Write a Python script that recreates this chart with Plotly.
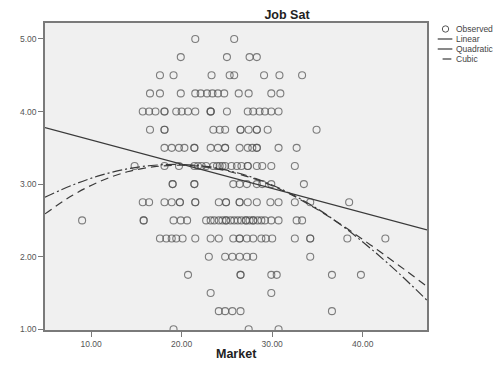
import plotly.graph_objects as go

# ---------------- data ----------------
# Observed points: Market (x) and Job Sat (y)
market = [
    # 5.00
    21.5, 25.8,
    # 4.75
    19.9, 25.0, 27.5, 28.3,
    # 4.50
    17.6, 19.1, 23.3, 25.3, 25.8, 29.1, 30.8, 33.3,
    # 4.25
    16.5, 17.6, 19.9, 21.5, 22.1, 22.8, 23.4, 24.0, 24.7, 26.3, 27.4, 29.9, 30.9,
    # 4.00
    15.7, 16.4, 17.1, 18.1, 18.1, 19.4, 20.0, 20.7, 21.5, 23.2, 23.2, 23.2, 25.0,
    27.3, 27.9, 28.6, 29.2, 29.9, 30.7,
    # 3.75
    16.5, 18.1, 18.1, 23.5, 24.2, 24.8, 26.5, 26.5, 27.4, 28.3, 28.3, 29.5, 34.9,
    # 3.50
    18.1, 18.9, 19.7, 20.3, 21.4, 21.4, 23.2, 24.0, 24.8, 24.8, 26.4, 27.3, 27.8,
    28.3, 28.3, 30.7, 32.7,
    # 3.25
    14.8, 18.1, 19.7, 21.4, 21.8, 22.2, 22.7, 23.5, 23.9, 24.2, 24.5, 24.8, 25.5,
    26.1, 26.6, 27.3, 27.3, 28.3, 28.9, 29.9, 32.5,
    # 3.00
    19.0, 19.0, 21.4, 21.4, 25.7, 26.4, 27.2, 28.3, 28.9, 29.9, 33.5,
    # 2.75
    15.7, 16.4, 18.1, 18.9, 19.8, 19.8, 21.5, 21.5, 24.1, 24.9, 24.9, 26.4, 26.4,
    27.3, 28.3, 29.8, 30.7, 32.5, 34.2, 38.5,
    # 2.50
    9.0, 15.8, 15.8, 19.1, 19.9, 20.6, 22.7, 23.2, 23.6, 24.1, 24.5, 24.9, 24.9,
    25.4, 25.8, 26.2, 26.6, 27.1, 27.1, 27.5, 27.9, 27.9, 28.4, 28.8, 29.2, 29.9,
    30.7, 32.7, 33.3,
    # 2.25
    17.6, 18.3, 18.9, 19.4, 20.1, 21.5, 23.2, 24.1, 25.7, 26.4, 26.4, 27.2, 27.9,
    28.8, 29.3, 30.0, 32.5, 34.2, 34.2, 38.3, 42.5,
    # 2.00
    23.0, 24.8, 25.6, 26.4, 27.2, 27.9, 34.2,
    # 1.75
    20.7, 26.5, 26.5, 29.9, 30.5, 36.6, 39.8,
    # 1.50
    23.2, 29.9,
    # 1.25
    24.1, 24.8, 25.6, 26.5, 36.6,
    # 1.00
    19.1, 27.4, 30.7,
]
job_sat = (
    [5.00] * 2 + [4.75] * 4 + [4.50] * 8 + [4.25] * 13 + [4.00] * 19 +
    [3.75] * 13 + [3.50] * 17 + [3.25] * 21 + [3.00] * 11 + [2.75] * 20 +
    [2.50] * 29 + [2.25] * 21 + [2.00] * 7 + [1.75] * 7 + [1.50] * 2 +
    [1.25] * 5 + [1.00] * 3
)

# Fitted lines
linear_x = [4.9, 47.1]
linear_y = [3.78, 2.37]

curve_x = [4.9, 8, 11, 14, 17, 20, 23, 26, 29, 32, 35, 38, 41, 44, 47.1]
quadratic_y = [2.59, 2.85, 3.04, 3.17, 3.24, 3.26, 3.23, 3.15, 3.03, 2.86, 2.65,
               2.41, 2.15, 1.88, 1.59]
cubic_y = [2.82, 2.99, 3.12, 3.21, 3.26, 3.27, 3.24, 3.16, 3.04, 2.87, 2.66,
           2.40, 2.10, 1.77, 1.40]

x_ticks = [10, 20, 30, 40]
y_ticks = [1, 2, 3, 4, 5]
legend_labels = ["Observed", "Linear", "Quadratic", "Cubic"]

# ---------------- figure ----------------
# The page body has an 8px margin, so the figure is sized to fit the window.
OFF = 8
FIG_W, FIG_H = 501 - OFF, 366 - OFF
LINE_COL = "#3a3a3a"
fig = go.Figure()

fig.add_trace(go.Scatter(
    x=market, y=job_sat, mode="markers", name="Observed",
    marker=dict(symbol="circle-open", size=7, color="rgba(85,85,85,0.75)",
                line=dict(width=1.1, color="rgba(85,85,85,0.75)")),
    showlegend=False,
))
fig.add_trace(go.Scatter(
    x=linear_x, y=linear_y, mode="lines", name="Linear",
    line=dict(color=LINE_COL, width=1.2), showlegend=False,
))
fig.add_trace(go.Scatter(
    x=curve_x, y=quadratic_y, mode="lines", name="Quadratic",
    line=dict(color=LINE_COL, width=1.2, dash="8px,5px", shape="spline"),
    showlegend=False,
))
fig.add_trace(go.Scatter(
    x=curve_x, y=cubic_y, mode="lines", name="Cubic",
    line=dict(color=LINE_COL, width=1.2, dash="10px,3px,2px,3px", shape="spline"),
    showlegend=False,
))

# Plot area in screen pixels
PW, PH, L, T = 392, 307, 35, 23
def px_x(px):
    return (px - L) / PW
def px_y(py):
    return (T + PH - py) / PH

# Manual compact legend
leg_y = [29, 39, 49, 59]
fig.add_shape(type="circle", xref="paper", yref="paper",
              xsizemode="pixel", ysizemode="pixel",
              xanchor=px_x(446), yanchor=px_y(leg_y[0]),
              x0=-3.2, x1=3.2, y0=-3.2, y1=3.2,
              line=dict(color="#555", width=1))
fig.add_shape(type="line", xref="paper", yref="paper",
              x0=px_x(438), x1=px_x(453), y0=px_y(leg_y[1]), y1=px_y(leg_y[1]),
              line=dict(color=LINE_COL, width=1.2))
fig.add_shape(type="line", xref="paper", yref="paper",
              x0=px_x(438), x1=px_x(453), y0=px_y(leg_y[2]), y1=px_y(leg_y[2]),
              line=dict(color=LINE_COL, width=1.2))
fig.add_shape(type="line", xref="paper", yref="paper",
              x0=px_x(443), x1=px_x(452), y0=px_y(leg_y[3]), y1=px_y(leg_y[3]),
              line=dict(color=LINE_COL, width=1.2))
for lab, yy in zip(legend_labels, leg_y):
    fig.add_annotation(text=lab, xref="paper", yref="paper",
                       x=px_x(455), y=px_y(yy), xanchor="left", yanchor="middle",
                       showarrow=False,
                       font=dict(family="Liberation Sans, Arial", size=8.5, color="#444"))

# X axis title
fig.add_annotation(text="<b>Market</b>", xref="paper", yref="paper",
                   x=0.5, y=px_y(354), xanchor="center", yanchor="middle",
                   showarrow=False,
                   font=dict(family="Liberation Sans, Arial", size=12.5, color="#222"))

axis_common = dict(
    showgrid=False, zeroline=False, showline=True, mirror=True,
    linecolor="#7a7a7a", linewidth=1.6,
    ticks="outside", ticklen=5, tickcolor="#7a7a7a", tickwidth=1,
    tickfont=dict(family="Liberation Sans, Arial", size=8.5, color="#555"),
    tickformat=".2f",
)
fig.update_xaxes(range=[4.9, 47.1], tickvals=x_ticks, **axis_common)
fig.update_yaxes(range=[0.99, 5.22], tickvals=y_ticks, **axis_common)

fig.update_layout(
    width=FIG_W, height=FIG_H,
    margin=dict(l=L - OFF, r=FIG_W - (L - OFF) - PW, t=T - OFF,
                b=FIG_H - (T - OFF) - PH),
    paper_bgcolor="white", plot_bgcolor="#f0f0f0",
    title=dict(text="<b>Job Sat</b>", x=(287 - OFF) / FIG_W, xanchor="center",
               y=1 - (15 - OFF) / FIG_H, yanchor="middle",
               font=dict(family="Liberation Sans, Arial", size=12.5, color="#222")),
    showlegend=False,
)

fig.write_html("out.html")
